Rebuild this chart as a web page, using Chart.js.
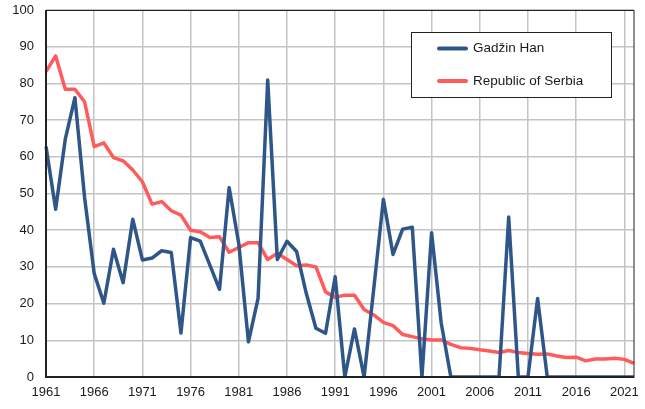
<!DOCTYPE html>
<html>
<head>
<meta charset="utf-8">
<script src="https://cdn.jsdelivr.net/npm/chart.js@4/dist/chart.umd.min.js"></script>
<style>
  html, body { margin: 0; padding: 0; background: #fff; }
  #wrap { width: 645px; height: 409px; }
</style>
</head>
<body>
<div id="wrap"><canvas id="chart" width="645" height="409"></canvas></div>
<script>
// Years on the x axis
const years = [];
for (let y = 1961; y <= 2022; y++) years.push(String(y));

// Gadžin Han, 1961-2022
const gadzinHan = [
  62.8, 45.7, 64.8, 76.1, 49.0, 28.2, 20.1, 34.8, 25.7, 43.0,
  31.9, 32.4, 34.4, 33.9, 12.0, 38.0, 37.0, 30.5, 23.9, 51.6,
  36.3, 9.6, 21.4, 80.9, 32.0, 37.0, 34.2, 22.8, 13.3, 11.9,
  27.3, 0, 13.1, 0, 24.0, 48.4, 33.4, 40.3, 40.8, 0,
  39.3, 14.7, 0, 0, 0, 0, 0, 0, 43.6, 0,
  0, 21.4, 0, 0, 0, 0, 0, 0, 0, 0,
  0, 0
];

// Republic of Serbia, 1961-2022
const serbia = [
  83.2, 87.5, 78.4, 78.4, 75.0, 62.8, 63.8, 59.8, 58.9, 56.4,
  53.2, 47.1, 47.8, 45.3, 44.1, 40.0, 39.6, 38.0, 38.2, 34.0,
  35.3, 36.6, 36.6, 32.0, 33.7, 32.0, 30.3, 30.5, 30.0, 23.2,
  21.7, 22.3, 22.3, 18.4, 16.9, 14.9, 14.0, 11.6, 11.0, 10.4,
  10.1, 10.1, 8.9, 8.0, 7.8, 7.4, 7.1, 6.7, 7.2, 6.7,
  6.4, 6.2, 6.3, 5.7, 5.3, 5.4, 4.4, 4.9, 4.9, 5.1,
  4.8, 3.7
];

const seriesNames = ['Gadžin Han', 'Republic of Serbia'];
const seriesColors = ['#2f5688', '#ff5b5b'];

const font = "'Liberation Sans', Arial, sans-serif";

// box legend drawn inside the plot, top right
const boxLegend = {
  id: 'boxLegend',
  afterDraw(chart) {
    const ctx = chart.ctx;
    ctx.save();
    ctx.fillStyle = '#fff';
    ctx.fillRect(411, 32, 200, 65);
    ctx.strokeStyle = '#222';
    ctx.lineWidth = 1;
    ctx.strokeRect(411.5, 32.5, 200, 65);
    ctx.font = '13.5px ' + font;
    ctx.textBaseline = 'middle';
    chart.data.datasets.forEach((ds, i) => {
      const y = 48.5 + i * 32.5;
      ctx.strokeStyle = ds.borderColor;
      ctx.lineWidth = 4;
      ctx.lineCap = 'round';
      ctx.beginPath();
      ctx.moveTo(439, y);
      ctx.lineTo(466, y);
      ctx.stroke();
      ctx.fillStyle = '#1a1a1a';
      ctx.fillText(ds.label, 473, y);
    });
    ctx.restore();
  }
};

// frame around the plot area
const frame = {
  id: 'frame',
  afterDatasetsDraw(chart) {
    const a = chart.chartArea;
    const ctx = chart.ctx;
    ctx.save();
    ctx.strokeStyle = '#222';
    ctx.lineWidth = 1;
    ctx.strokeRect(a.left, a.top + 0.5, a.right - a.left, a.bottom - a.top);
    ctx.lineWidth = 2;
    ctx.beginPath();
    ctx.moveTo(a.left, a.top);
    ctx.lineTo(a.left, a.bottom);
    ctx.lineTo(a.right, a.bottom);
    ctx.stroke();
    ctx.restore();
  }
};

new Chart(document.getElementById('chart'), {
  type: 'line',
  data: {
    labels: years,
    datasets: [
      { label: seriesNames[0], data: gadzinHan, borderColor: seriesColors[0], backgroundColor: seriesColors[0] },
      { label: seriesNames[1], data: serbia, borderColor: seriesColors[1], backgroundColor: seriesColors[1] }
    ].map(d => Object.assign(d, { borderWidth: 3.5, pointRadius: 0, tension: 0, fill: false, borderJoinStyle: 'round' }))
  },
  options: {
    responsive: false,
    animation: false,
    layout: { padding: { top: 10, right: 11, left: 0, bottom: 0 } },
    plugins: { legend: { display: false }, tooltip: { enabled: false } },
    scales: {
      x: {
        offset: false,
        afterFit: s => { s.height = 32; s.paddingLeft = 0; s.paddingRight = 0; },
        grid: {
          drawTicks: false,
          lineWidth: 1.5,
          color: c => ((c.index % 5 === 0) ? '#c4c4c4' : 'rgba(0,0,0,0)')
        },
        border: { display: false },
        ticks: {
          autoSkip: false,
          maxRotation: 0,
          padding: 8,
          color: '#1a1a1a',
          font: { family: font, size: 13 },
          callback: (v, i) => (i % 5 === 0 ? years[i] : '')
        }
      },
      y: {
        min: 0,
        max: 100,
        afterFit: s => { s.width = 46; s.paddingTop = 0; s.paddingBottom = 0; },
        grid: { drawTicks: false, lineWidth: 1.5, color: '#c4c4c4' },
        border: { display: false },
        ticks: {
          stepSize: 10,
          padding: 12,
          color: '#1a1a1a',
          font: { family: font, size: 13 }
        }
      }
    }
  },
  plugins: [frame, boxLegend]
});
</script>
</body>
</html>
